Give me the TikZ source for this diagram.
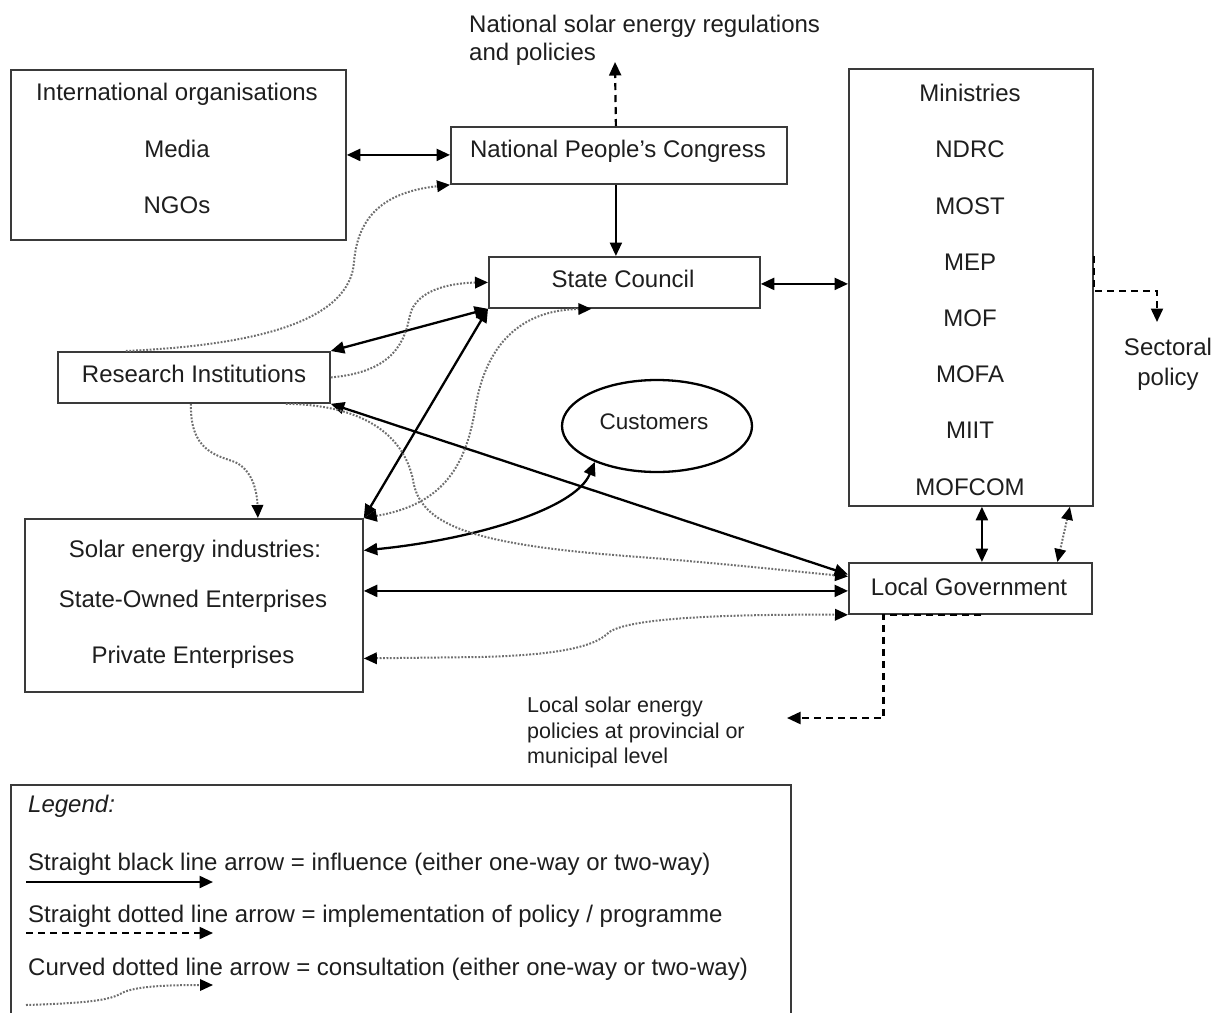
\documentclass[tikz,border=0pt]{standalone}
\usepackage{fontspec}
\setmainfont{Liberation Sans}
\usetikzlibrary{arrows.meta,shapes.geometric,calc}
\definecolor{txt}{HTML}{1E1E1E}
\definecolor{boxc}{HTML}{3A3A3A}
\definecolor{dotc}{HTML}{6E6E6E}
\tikzset{
  tipinf/.tip={Triangle[length=13.5pt,width=12pt]},
  tipcon/.tip={Triangle[length=13pt,width=11.5pt,color=black]},
}
\begin{document}
\begin{tikzpicture}[x=1pt,y=-1pt,
  box/.style={draw=boxc,line width=1.8pt,rectangle,inner sep=0pt,anchor=north west},
  lbl/.style={font=\fontsize{24}{28}\selectfont,text=txt,inner sep=0pt,anchor=base},
  lbll/.style={lbl,anchor=base west},
  smalll/.style={font=\fontsize{21.5}{26}\selectfont,text=txt,inner sep=0pt,anchor=base west},
  infl/.style={draw=black,line width=2.3pt},
  impl/.style={draw=black,line width=2.2pt,dash pattern=on 7pt off 5pt},
  cons/.style={draw=dotc,line width=2pt,dash pattern=on 1.8pt off 1.6pt},
]
\useasboundingbox (0,0) rectangle (1228,1012);
\clip (0,0) rectangle (1228,1012);
\fill[white] (0,0) rectangle (1228,1012);

% ---------- boxes ----------
\node[box,minimum width=335pt,minimum height=170pt] (intl) at (10,69) {};
\node[box,minimum width=336pt,minimum height=57pt] (npc) at (450,126) {};
\node[box,minimum width=271pt,minimum height=51pt] (sc) at (488,256) {};
\node[box,minimum width=244pt,minimum height=437pt] (min) at (848,68) {};
\node[box,minimum width=272pt,minimum height=51pt] (ri) at (57,351) {};
\node[box,minimum width=338pt,minimum height=173pt] (sol) at (24,518) {};
\node[box,minimum width=243pt,minimum height=51pt] (lg) at (848,562) {};
\node[ellipse,draw=black,line width=2.3pt,minimum width=190pt,minimum height=92pt,inner sep=0pt] (cust) at (657,426) {};
\node[box,minimum width=780pt,minimum height=260pt] (legend) at (10,784) {};

% ---------- texts ----------
\node[lbl] (t1) at (177,100) {International organisations};
\node[lbl] (t2) at (177,157) {Media};
\node[lbl] (t3) at (177,213) {NGOs};
\node[lbl] (t4) at (618,157) {National People’s Congress};
\node[lbll] (t5) at (469,32) {National solar energy regulations};
\node[lbll] (t6) at (469,60) {and policies};
\node[lbl] (t7) at (623,287) {State Council};
\node[lbl] (m1) at (970,101) {Ministries};
\node[lbl] (m2) at (970,157) {NDRC};
\node[lbl] (m3) at (970,214) {MOST};
\node[lbl] (m4) at (970,270) {MEP};
\node[lbl] (m5) at (970,326) {MOF};
\node[lbl] (m6) at (970,382) {MOFA};
\node[lbl] (m7) at (970,438) {MIIT};
\node[lbl] (m8) at (970,495) {MOFCOM};
\node[lbl] (s1) at (1168,355) {Sectoral};
\node[lbl] (s2) at (1168,385) {policy};
\node[lbl] (t8) at (194,382) {Research Institutions};
\node[lbl,font=\fontsize{22.5}{26}\selectfont] (t9) at (654,429) {Customers};
\node[lbl] (e1) at (195,557) {Solar energy industries:};
\node[lbl] (e2) at (193,607) {State-Owned Enterprises};
\node[lbl] (e3) at (193,663) {Private Enterprises};
\node[lbl] (t10) at (969,595) {Local Government};
\node[smalll] (l1) at (527,712) {Local solar energy};
\node[smalll] (l2) at (527,738) {policies at provincial or};
\node[smalll] (l3) at (527,763) {municipal level};
\node[lbll,font=\fontsize{24}{28}\selectfont\itshape] (g0) at (28,812) {Legend:};
\node[lbll] (g1) at (28,870) {Straight black line arrow = influence (either one-way or two-way)};
\node[lbll] (g2) at (28,922) {Straight dotted line arrow = implementation of policy / programme};
\node[lbll] (g3) at (28,975) {Curved dotted line arrow = consultation (either one-way or two-way)};

% ---------- coordinates ----------
\coordinate (natend) at (615,62);
\coordinate (secend) at (1157,322);
\coordinate (locend) at (787,718);
\coordinate (lgin) at ([yshift=-2.5pt]lg.west);

% ---------- influence (solid) ----------
\draw[infl,tipinf-tipinf] (intl.east) -- (intl.east -| npc.west);
\draw[infl,-tipinf] ([xshift=-3pt]npc.south) -- ([xshift=-3pt]npc.south |- sc.north);
\draw[infl,tipinf-tipinf] ([yshift=-1.5pt]sc.east) -- ([yshift=-1.5pt]sc.east -| min.west);
\draw[infl,tipinf-tipinf] (ri.north east) -- (sc.south west);
\draw[infl,tipinf-tipinf] (sol.north east) -- (sc.south west);
\draw[infl,tipinf-tipinf] (ri.south east) -- ([yshift=14pt]lg.west);
\draw[infl,tipinf-tipinf] ([yshift=55pt]sol.east) .. controls (470,540) and (575,510) .. (cust.210);
\draw[infl,tipinf-tipinf] (sol.east |- lgin) -- (lgin);
\draw[infl,tipinf-tipinf] ([xshift=11pt]min.south) -- ([xshift=11pt]min.south |- lg.north);

% ---------- implementation (dashed) ----------
\draw[impl,-tipinf] ([xshift=-3pt]npc.north) -- (natend);
\draw[impl,-tipinf] ([yshift=31pt]min.east) -- ([yshift=-3.5pt]min.east) -| (secend);
\draw[impl,-tipinf] ([xshift=11pt]lg.south) -- ([xshift=-87pt]lg.south) |- (locend);

% ---------- consultation (dotted curves) ----------
\draw[cons,-tipcon] ([xshift=-68pt]ri.north) .. controls (260,345) and (350,320) .. (354,262)
   .. controls (358,215) and (385,192) .. (npc.south west);
\draw[cons,-tipcon] (ri.east) .. controls (395,372) and (405,340) .. (410,315)
   .. controls (416,290) and (450,283) .. (sc.west);
\draw[cons,tipcon-tipcon] (sol.north east) .. controls (440,505) and (465,470) .. (475,410)
   .. controls (485,345) and (520,310) .. ([xshift=-33pt]sc.south);
\draw[cons,-tipcon] ([xshift=-3pt]ri.south) .. controls (190,450) and (215,455) .. (235,462)
   .. controls (252,470) and (257,490) .. ([xshift=64pt]sol.north);
\draw[cons,-tipcon] ([xshift=92pt]ri.south) .. controls (370,405) and (405,440) .. (413,480)
   .. controls (420,525) and (470,545) .. (640,557)
   .. controls (740,565) and (800,572) .. ([yshift=12pt]lg.west);
\draw[cons,tipcon-tipcon] ([yshift=-53pt]sol.east) -- (480,657) .. controls (565,655) and (595,645) .. (607,634)
   .. controls (620,620) and (700,614) .. (lg.south west);
\draw[cons,tipcon-tipcon] ([xshift=99pt]min.south) -- ([xshift=87pt]lg.north);

% ---------- legend samples ----------
\coordinate (la1) at (26,882);
\coordinate (lb1) at (213,882);
\coordinate (la2) at (26,933);
\coordinate (lb2) at (213,933);
\coordinate (la3) at (26,1005);
\coordinate (lb3) at (213,985);
\draw[infl,-tipinf] (la1) -- (lb1);
\draw[impl,-tipinf] (la2) -- (lb2);
\draw[cons,-tipcon] (la3) .. controls (90,1003) and (110,1000) .. (122,993)
   .. controls (135,986) and (170,985) .. (lb3);
\end{tikzpicture}
\end{document}
